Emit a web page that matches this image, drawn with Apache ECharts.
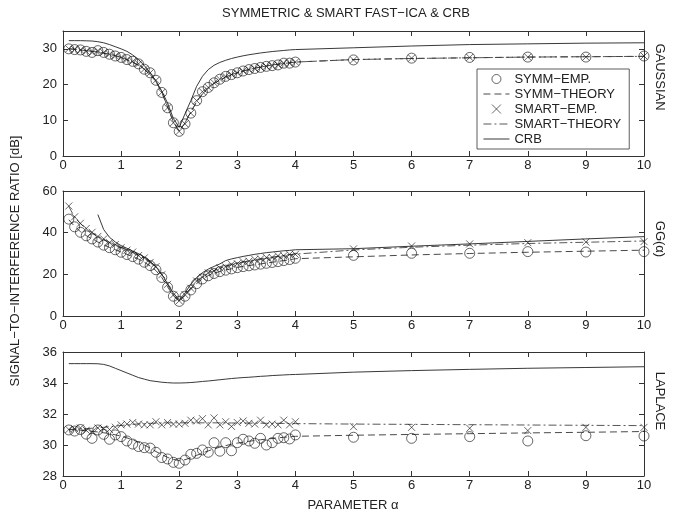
<!DOCTYPE html>
<html><head><meta charset="utf-8">
<script src="https://cdn.jsdelivr.net/npm/echarts@6/dist/echarts.min.js"></script>
<style>html,body{margin:0;padding:0;background:#fff}#c{width:690px;height:522px}</style>
</head><body><div id="c"></div>
<script>
// ---------- DATA ----------
const xs = [0.1,0.2,0.3,0.4,0.5,0.6,0.7,0.8,0.9,1.0,1.1,1.2,1.3,1.4,1.5,1.6,1.7,1.8,1.9,2.0,
            2.1,2.2,2.3,2.4,2.5,2.6,2.7,2.8,2.9,3.0,3.1,3.2,3.3,3.4,3.5,3.6,3.7,3.8,3.9,4.0,
            5,6,7,8,9,10];
const xTicks = [0,1,2,3,4,5,6,7,8,9,10];
const panelNames = ['GAUSSIAN','GG(α)','LAPLACE'];
const legendNames = ['SYMM−EMP.','SYMM−THEORY','SMART−EMP.','SMART−THEORY','CRB'];

// Panel 1: Gaussian
const gSymmEmp = [30.0,29.8,29.7,29.3,29.0,29.5,29.0,28.5,28.0,27.6,27.0,26.5,25.8,24.3,23.3,21.2,17.8,13.5,9.3,6.9,
                  9.0,12.0,15.5,18.0,19.2,20.5,21.5,22.3,22.8,23.3,23.8,24.2,24.5,24.8,25.1,25.3,25.5,26.0,26.0,26.3,
                  26.9,27.4,27.6,27.7,27.7,28.0];
const gSmartEmp = [30.0,29.8,29.7,29.3,29.0,29.5,29.0,28.5,28.0,27.6,27.0,26.5,25.8,24.3,23.3,21.2,17.8,13.5,9.3,6.9,
                   9.0,12.0,15.5,18.0,19.2,20.5,21.5,22.3,22.8,23.3,23.8,24.2,24.5,24.8,25.1,25.3,25.5,26.0,26.0,26.3,
                   26.9,27.4,27.6,27.7,27.7,28.0];
const gSymmTh = [30.0,29.9,29.7,29.5,29.3,29.1,28.8,28.5,28.1,27.6,27.0,26.3,25.4,24.3,22.8,20.8,17.8,13.8,9.5,7.0,
                 9.3,12.3,15.2,17.4,19.0,20.3,21.3,22.1,22.8,23.3,23.8,24.2,24.6,24.9,25.2,25.5,25.7,25.9,26.1,26.3,
                 27.0,27.3,27.5,27.7,27.8,27.9];
const gSmartTh = [30.0,29.9,29.7,29.5,29.3,29.1,28.8,28.5,28.1,27.6,27.0,26.3,25.4,24.3,22.8,20.8,17.8,13.8,9.5,7.0,
                  9.3,12.3,15.2,17.4,19.0,20.3,21.3,22.1,22.8,23.3,23.8,24.2,24.6,24.9,25.2,25.5,25.7,25.9,26.1,26.3,
                  27.0,27.3,27.5,27.7,27.8,27.9];
const gCrb = [32.3,32.3,32.3,32.25,32.2,32.0,31.7,31.2,30.6,30.0,29.3,28.3,27.0,25.3,23.3,21.0,18.2,14.8,10.5,8.0,
              11.8,15.5,19.5,22.3,24.2,25.4,26.2,26.8,27.3,27.7,28.05,28.35,28.6,28.85,29.05,29.25,29.4,29.55,29.7,29.8,
              30.3,30.8,31.2,31.4,31.6,31.7];

// Panel 2: generalized Gaussian
const ggSymmEmp = [46.5,42.8,40.2,38.5,37.0,35.5,34.0,32.8,31.8,30.6,29.5,28.5,27.3,25.8,24.2,22.2,18.5,13.8,9.5,7.0,
                   9.5,12.5,15.5,17.8,19.3,20.4,21.3,22.0,22.6,23.2,23.7,24.1,24.5,24.9,25.3,25.7,26.1,26.6,27.1,27.7,
                   29.1,30.1,30.1,30.9,30.7,30.9];
const ggSmartEmp = [52.8,47.6,44.5,42.0,40.2,38.2,37.0,35.2,34.3,32.8,31.6,30.7,29.0,27.9,25.7,23.7,19.8,15.2,10.1,7.3,
                    10.2,13.3,16.8,18.6,20.7,21.6,23.1,23.6,24.8,25.1,26.1,26.3,27.2,27.4,28.1,28.1,28.9,28.9,29.6,29.6,
                    32.2,33.6,34.6,35.2,35.5,35.7];
const ggSymmTh = [46.2,43.0,40.5,38.6,37.0,35.5,34.1,32.9,31.8,30.7,29.6,28.5,27.3,25.8,24.0,21.8,18.5,14.0,9.7,7.1,
                  9.8,12.8,15.6,17.8,19.4,20.5,21.4,22.1,22.7,23.3,23.8,24.2,24.6,25.0,25.4,25.8,26.2,26.6,27.0,27.5,
                  28.4,29.3,30.0,30.6,31.1,31.6];
const ggSmartTh = [52.5,47.5,44.3,42.0,40.0,38.3,36.8,35.4,34.1,32.9,31.7,30.5,29.2,27.7,25.9,23.5,20.0,15.0,10.0,7.2,
                   10.0,13.5,16.5,18.8,20.5,21.8,22.9,23.8,24.6,25.3,25.9,26.5,27.0,27.5,27.9,28.3,28.7,29.1,29.4,29.7,
                   31.7,33.0,34.0,34.8,35.4,36.0];
const ggCrb = [null,null,null,null,null,48.7,41.5,37.8,35.5,33.8,32.5,31.2,29.9,28.3,26.3,23.6,20.0,15.5,11.0,7.8,
               11.0,15.3,18.5,20.8,22.5,23.8,25.0,26.6,27.4,28.0,28.6,29.1,29.6,30.0,30.4,30.7,31.0,31.3,31.5,31.8,
               32.3,33.5,34.6,35.8,37.0,38.1];

// Panel 3: Laplace
const lSymmEmp = [30.97,30.9,31.0,30.7,30.43,30.97,30.69,30.37,30.65,30.54,30.26,30.06,29.9,29.83,29.8,29.53,29.19,29.1,28.88,28.82,
                  29.03,29.4,29.46,29.68,29.53,30.15,29.6,30.15,29.63,30.15,30.37,30.26,30.11,30.43,30.0,30.15,30.43,30.47,30.39,30.65,
                  30.5,30.43,30.54,30.26,30.6,30.58];
const lSmartEmp = [31.0,31.05,31.1,30.95,30.85,31.1,31.05,31.0,31.15,31.3,31.35,31.45,31.35,31.3,31.3,31.5,31.3,31.45,31.35,31.35,
                   31.4,31.6,31.55,31.7,31.3,31.75,31.3,31.5,31.2,31.45,31.55,31.4,31.35,31.6,31.3,31.35,31.3,31.6,31.3,31.5,
                   31.18,31.14,31.08,30.93,31.14,31.14];
const lSymmTh = [31.0,30.98,30.95,30.92,30.88,30.84,30.79,30.73,30.66,30.57,30.46,30.33,30.18,30.0,29.8,29.58,29.38,29.2,29.07,29.0,
                 29.05,29.18,29.33,29.48,29.62,29.75,29.86,29.96,30.05,30.12,30.18,30.24,30.29,30.34,30.38,30.42,30.46,30.5,30.53,30.56,
                 30.63,30.68,30.73,30.78,30.82,30.87];
const lSmartTh = [31.0,31.02,31.04,31.06,31.08,31.11,31.14,31.18,31.22,31.26,31.3,31.33,31.36,31.38,31.4,31.41,31.42,31.43,31.43,31.43,
                  31.43,31.43,31.43,31.43,31.43,31.43,31.43,31.43,31.42,31.42,31.42,31.41,31.41,31.41,31.4,31.4,31.4,31.39,31.39,31.38,
                  31.35,31.33,31.31,31.29,31.27,31.25];
const lCrb = [35.25,35.25,35.25,35.25,35.25,35.24,35.2,35.1,34.95,34.8,34.65,34.5,34.35,34.25,34.15,34.1,34.05,34.02,34.0,34.0,
              34.01,34.03,34.06,34.1,34.13,34.17,34.21,34.25,34.29,34.32,34.35,34.37,34.4,34.43,34.45,34.48,34.5,34.52,34.54,34.55,
              34.7,34.8,34.88,34.95,35.0,35.05];

const yRanges = [{min:0,max:35,interval:10},{min:0,max:60,interval:20},{min:28,max:36,interval:2}];
const yTopHide = [35,null,null];

// ---------- LAYOUT ----------
const gridTops = [31,191,352];
const gridHeights = [125,125,124];
const FONT = 'Liberation Sans, Arial, Helvetica, sans-serif';
const AX = '#333';

const panels = [
  [gSymmEmp,gSymmTh,gSmartEmp,gSmartTh,gCrb],
  [ggSymmEmp,ggSymmTh,ggSmartEmp,ggSmartTh,ggCrb],
  [lSymmEmp,lSymmTh,lSmartEmp,lSmartTh,lCrb]
];

const grids=[], xAxes=[], yAxes=[], series=[];
for (let p=0;p<3;p++){
  grids.push({left:63,right:46,top:gridTops[p],height:gridHeights[p],containLabel:false});
}
for (let p=0;p<3;p++){
  xAxes.push({type:'value',gridIndex:p,min:0,max:10,interval:1,position:'bottom',
    axisLine:{show:true,lineStyle:{color:AX,width:1}},
    axisTick:{show:true,inside:true,length:5,lineStyle:{color:AX}},
    axisLabel:{show:true,margin:3,color:'#222',fontSize:13,fontFamily:FONT},
    splitLine:{show:false}});
}
for (let p=0;p<3;p++){
  xAxes.push({type:'value',gridIndex:p,min:0,max:10,interval:1,position:'top',
    axisLine:{show:true,onZero:false,lineStyle:{color:AX,width:1}},
    axisTick:{show:true,inside:true,length:5,lineStyle:{color:AX}},
    axisLabel:{show:false},splitLine:{show:false}});
}
for (let p=0;p<3;p++){
  const r=yRanges[p], hide=yTopHide[p];
  yAxes.push({type:'value',gridIndex:p,min:r.min,max:r.max,interval:r.interval,position:'left',
    axisLine:{show:true,onZero:false,lineStyle:{color:AX,width:1}},
    axisTick:{show:true,inside:true,length:5,lineStyle:{color:AX}},
    axisLabel:{show:true,margin:6,color:'#222',fontSize:13,fontFamily:FONT,
      formatter:(v)=> (hide!==null && v===hide) ? '' : String(v)},
    splitLine:{show:false}});
}
for (let p=0;p<3;p++){
  const r=yRanges[p];
  yAxes.push({type:'value',gridIndex:p,min:r.min,max:r.max,interval:r.interval,position:'right',
    axisLine:{show:true,onZero:false,lineStyle:{color:AX,width:1}},
    axisTick:{show:true,inside:true,length:5,lineStyle:{color:AX}},
    axisLabel:{show:false},splitLine:{show:false}});
}

const pair = arr => xs.map((x,i)=>[x,arr[i]]);
const XPATH = 'path://M0,0L10,10M10,0L0,10';
for (let p=0;p<3;p++){
  const [se,st,me,mt,crb] = panels[p];
  series.push({name:legendNames[4],type:'line',xAxisIndex:p,yAxisIndex:p,data:pair(crb),symbol:'none',
    connectNulls:false,itemStyle:{color:'#222'},lineStyle:{color:'#222',width:0.9,type:'solid'},z:2,silent:true});
  series.push({name:legendNames[1],type:'line',xAxisIndex:p,yAxisIndex:p,data:pair(st),symbol:'none',
    itemStyle:{color:'#333'},lineStyle:{color:'#333',width:0.9,type:[7,4]},z:3,silent:true});
  series.push({name:legendNames[3],type:'line',xAxisIndex:p,yAxisIndex:p,data:pair(mt),symbol:'none',
    itemStyle:{color:'#444'},lineStyle:{color:'#444',width:0.9,type:[8,3,2,3]},z:3,silent:true});
  series.push({name:legendNames[0],type:'scatter',xAxisIndex:p,yAxisIndex:p,data:pair(se),symbol:'circle',symbolSize:10,
    itemStyle:{color:'rgba(255,255,255,0)',borderColor:'#111',borderWidth:0.8},z:4,silent:true});
  series.push({name:legendNames[2],type:'scatter',xAxisIndex:p,yAxisIndex:p,data:pair(me),symbol:XPATH,symbolSize:7,
    itemStyle:{color:'none',borderColor:'#111',borderWidth:0.8},z:5,silent:true});
}

const txt = (x,y,text,rot,size)=>({type:'text',x:x,y:y,rotation:rot||0,
  style:{text:text,font:(size||12)+'px '+FONT,fill:'#222',align:'center',verticalAlign:'middle'}});

const markerLegend = {color:'rgba(255,255,255,0)',borderColor:'#111',borderWidth:0.8};
const option = {
  animation:false,
  backgroundColor:'#fff',
  grid:grids, xAxis:xAxes, yAxis:yAxes, series:series,
  legend:{show:true,orient:'vertical',left:477,top:69,
    data:[
      {name:legendNames[0],itemStyle:markerLegend},
      {name:legendNames[1],itemStyle:{opacity:0},lineStyle:{width:0.9}},
      {name:legendNames[2],itemStyle:markerLegend},
      {name:legendNames[3],itemStyle:{opacity:0},lineStyle:{width:0.9}},
      {name:legendNames[4],itemStyle:{opacity:0},lineStyle:{width:0.9}}
    ],
    padding:[3,8,3,6],itemWidth:26,itemHeight:9,itemGap:1,
    backgroundColor:'#fff',borderColor:'#333',borderWidth:0.8,borderRadius:0,
    textStyle:{fontSize:13,fontFamily:FONT,color:'#222',lineHeight:14},
    selectedMode:false},
  graphic:[
    txt(346,13,'SYMMETRIC & SMART FAST−ICA & CRB',0,13),
    txt(15,261,'SIGNAL−TO−INTERFERENCE RATIO [dB]',Math.PI/2,13),
    txt(353,505,'PARAMETER α',0,13),
    txt(660,77,panelNames[0],-Math.PI/2,13),
    txt(660,239,panelNames[1],-Math.PI/2,13),
    txt(660,401,panelNames[2],-Math.PI/2,13)
  ]
};
const chart = echarts.init(document.getElementById('c'),null,{renderer:'canvas'});
chart.setOption(option);
</script></body></html>
